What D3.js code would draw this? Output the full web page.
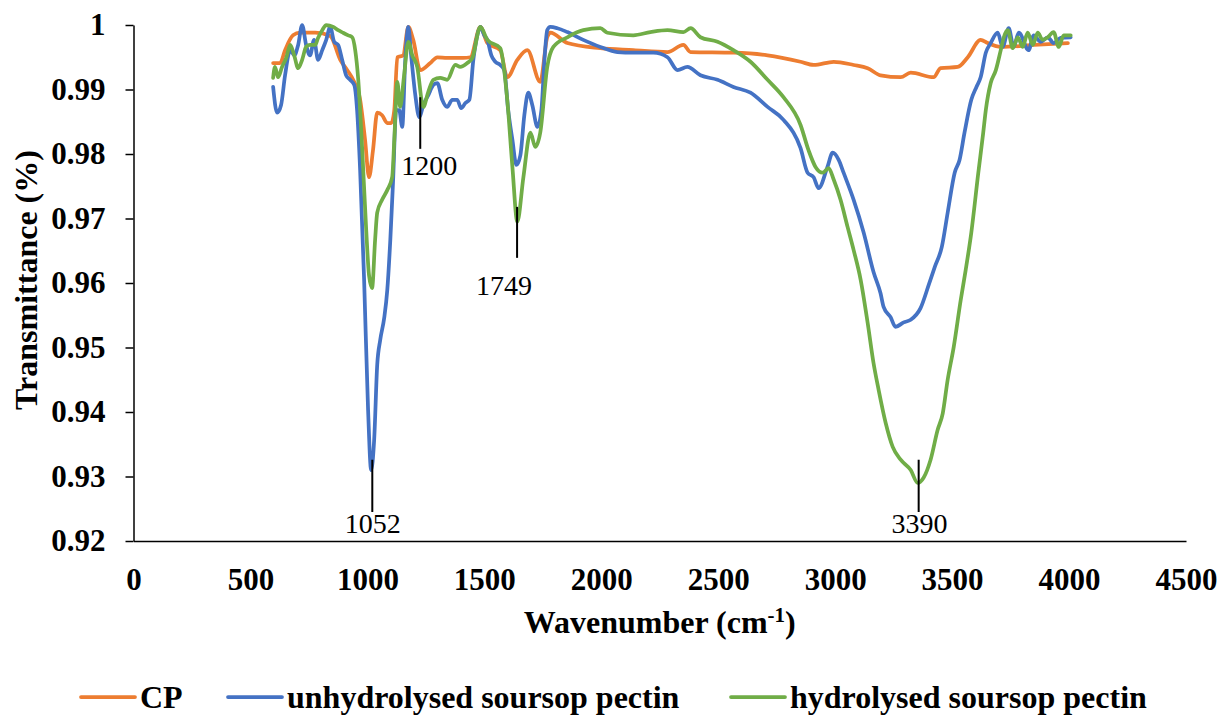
<!DOCTYPE html>
<html>
<head>
<meta charset="utf-8">
<script src="https://cdn.jsdelivr.net/npm/d3@7"></script>
<style>
  body { margin: 0; background: #fff; }
  svg { display: block; }
  svg text { font-family: "Liberation Serif", "Times New Roman", serif; fill: #000; }
</style>
</head>
<body>
<svg id="chart" width="1223" height="717"></svg>
<script>
// FTIR spectra: [wavenumber, transmittance]
const cpData = [
  [597,0.9941],[627,0.9941],[648,0.9961],[682,0.9984],[712,0.9988],[777,0.9988],[841,0.9983],
  [884,0.9946],[914,0.9930],[939,0.9915],[969,0.9884],[990,0.9822],[1007,0.9764],[1024,0.9806],
  [1042,0.9864],[1063,0.9860],[1085,0.9848],[1102,0.9848],[1115,0.9868],[1128,0.9950],[1153,0.9953],
  [1175,0.9997],[1196,0.9977],[1226,0.9930],[1269,0.9941],[1299,0.9950],[1341,0.9949],[1410,0.9949],
  [1440,0.9950],[1483,0.9997],[1513,0.9972],[1568,0.9961],[1598,0.9919],[1641,0.9946],[1684,0.9961],
  [1739,0.9912],[1769,0.9981],[1782,0.9988],[1855,0.9972],[1996,0.9964],[2137,0.9961],[2283,0.9958],
  [2351,0.9969],[2382,0.9958],[2566,0.9957],[2711,0.9953],[2852,0.9943],[2908,0.9938],[2994,0.9943],
  [3079,0.9938],[3139,0.9933],[3194,0.9922],[3280,0.9919],[3323,0.9926],[3421,0.9919],[3451,0.9933],
  [3524,0.9935],[3567,0.9950],[3622,0.9977],[3652,0.9972],[3708,0.9966],[3849,0.9969],[3995,0.9972]
]

const unhydData = [
  [597,0.9904],[614,0.9864],[631,0.9876],[648,0.9922],[670,0.9961],[687,0.9953],[704,0.9969],
  [721,1.0],[738,0.9969],[755,0.9953],[772,0.9977],[789,0.9946],[807,0.9961],[824,0.9977],
  [841,0.9997],[858,0.9974],[875,0.9969],[892,0.9946],[909,0.9922],[926,0.9915],[944,0.9907],
  [956,0.9868],[969,0.9775],[986,0.9605],[1003,0.9403],[1016,0.9310],[1029,0.9357],[1042,0.9473],
  [1055,0.9512],[1072,0.9546],[1085,0.9589],[1098,0.9667],[1110,0.9760],[1123,0.9868],[1136,0.9868],
  [1149,0.9842],[1162,0.9946],[1175,0.9997],[1187,0.9953],[1205,0.9891],[1222,0.9857],[1239,0.9876],
  [1260,0.9891],[1282,0.9907],[1299,0.9910],[1320,0.9884],[1341,0.9873],[1363,0.9884],[1384,0.9884],
  [1401,0.9871],[1419,0.9879],[1436,0.9884],[1453,0.9946],[1470,0.9984],[1483,0.9997],[1500,0.9984],
  [1513,0.9977],[1530,0.9953],[1547,0.9943],[1568,0.9938],[1585,0.9930],[1602,0.9868],[1620,0.9822],
  [1637,0.9783],[1654,0.9798],[1671,0.9860],[1688,0.9895],[1705,0.9876],[1727,0.9842],[1744,0.9868],
  [1757,0.9946],[1769,0.9992],[1782,0.9997],[1812,0.9995],[1855,0.9989],[1923,0.9977],[1996,0.9966],
  [2069,0.9958],[2137,0.9957],[2223,0.9957],[2283,0.9950],[2326,0.9930],[2368,0.9935],[2424,0.9922],
  [2497,0.9915],[2565,0.9904],[2638,0.9895],[2711,0.9873],[2779,0.9853],[2852,0.9809],[2882,0.9771],
  [2908,0.9764],[2929,0.9747],[2967,0.9780],[2989,0.9802],[3015,0.9791],[3036,0.9771],[3079,0.9729],
  [3122,0.9678],[3164,0.9617],[3194,0.9584],[3207,0.9563],[3237,0.9547],[3258,0.9532],[3293,0.9539],
  [3323,0.9543],[3365,0.9561],[3400,0.9597],[3426,0.9625],[3456,0.9656],[3481,0.9709],[3511,0.9771],
  [3532,0.9791],[3553,0.9833],[3582,0.9884],[3604,0.9904],[3622,0.9919],[3644,0.9957],[3665,0.9972],
  [3695,0.9988],[3716,0.9966],[3742,0.9995],[3763,0.9966],[3785,0.9988],[3827,0.9961],[3849,0.9984],
  [3878,0.9974],[3909,0.9981],[3934,0.9972],[3964,0.9980],[4007,0.9981]
]

const hydData = [
  [597,0.9918],[605,0.9935],[618,0.9919],[635,0.9935],[653,0.9949],[670,0.9969],[687,0.9953],
  [704,0.9933],[721,0.9946],[738,0.9966],[755,0.9969],[777,0.9969],[789,0.9980],[807,0.9992],
  [824,1.0],[854,0.9997],[875,0.9992],[896,0.9988],[918,0.9984],[935,0.9981],[948,0.9961],
  [961,0.9915],[978,0.9806],[995,0.9682],[1007,0.9612],[1020,0.9592],[1033,0.9667],[1042,0.9709],
  [1063,0.9729],[1085,0.9744],[1106,0.9764],[1115,0.9822],[1128,0.9912],[1140,0.9873],[1157,0.9922],
  [1175,0.9974],[1192,0.9953],[1213,0.9935],[1239,0.9873],[1260,0.9896],[1282,0.9915],[1311,0.9918],
  [1341,0.9915],[1376,0.9938],[1397,0.9935],[1427,0.9941],[1449,0.9949],[1483,0.9997],[1513,0.9977],
  [1568,0.9964],[1598,0.9884],[1620,0.9780],[1641,0.9695],[1667,0.9764],[1697,0.9833],[1718,0.9811],
  [1739,0.9833],[1769,0.9935],[1795,0.9966],[1855,0.9981],[1923,0.9992],[1996,0.9995],[2026,0.9988],
  [2137,0.9984],[2210,0.9989],[2283,0.9992],[2351,0.9989],[2382,0.9995],[2424,0.9981],[2497,0.9974],
  [2565,0.9961],[2638,0.9943],[2711,0.9915],[2779,0.9888],[2852,0.9845],[2886,0.9806],[2916,0.9780],
  [2946,0.9771],[2972,0.9778],[2994,0.9760],[3023,0.9729],[3053,0.9687],[3079,0.9651],[3109,0.9605],
  [3139,0.9538],[3164,0.9476],[3186,0.9434],[3216,0.9383],[3246,0.9346],[3280,0.9326],[3323,0.9310],
  [3353,0.9290],[3378,0.9298],[3408,0.9326],[3438,0.9372],[3460,0.9398],[3481,0.9450],[3507,0.9501],
  [3537,0.9574],[3558,0.9620],[3582,0.9678],[3612,0.9771],[3633,0.9833],[3644,0.9868],[3665,0.9910],
  [3687,0.9930],[3708,0.9961],[3721,0.9981],[3738,0.9992],[3759,0.9964],[3781,0.9981],[3802,0.9966],
  [3823,0.9988],[3845,0.9969],[3866,0.9988],[3887,0.9977],[3909,0.9981],[3934,0.9989],[3956,0.9966],
  [3977,0.9984],[4007,0.9984]
]

const seriesNames = ['CP', 'unhydrolysed soursop pectin', 'hydrolysed soursop pectin']
const seriesColors = ['#ED7D31', '#4472C4', '#70AD47']

const xTicks = [0, 500, 1000, 1500, 2000, 2500, 3000, 3500, 4000, 4500]
const yTicks = [0.92, 0.93, 0.94, 0.95, 0.96, 0.97, 0.98, 0.99, 1]

// peak labels: [text, line wavenumber, line top, line bottom, text wavenumber, text baseline]
const peakLabels = [
  ['1052', 1021, 0.9326, 0.9245, 1023, 0.9212],
  ['1200', 1226, 0.9888, 0.9808, 1264, 0.9767],
  ['1749', 1640, 0.9718, 0.9639, 1584, 0.9581],
  ['3390', 3357, 0.9326, 0.9245, 3361, 0.9212]
]

const svg = d3.select('#chart')
const margin = { left: 133.5, top: 25, right: 37, bottom: 176 }
const width = 1223 - margin.left - margin.right
const height = 717 - margin.top - margin.bottom

const x = d3.scaleLinear().domain([0, 4500]).range([margin.left, margin.left + width])
const y = d3.scaleLinear().domain([0.92, 1]).range([margin.top + height, margin.top])

// axes
const yAxis = svg.append('g')
    .attr('transform', `translate(${margin.left},0)`)
    .call(d3.axisLeft(y).tickValues(yTicks).tickSize(8).tickSizeOuter(0).tickPadding(20)
        .tickFormat(d => d === 1 ? '1' : d3.format('.2f')(d)))
yAxis.select('.domain').attr('stroke', '#000').attr('stroke-width', 1.5)
yAxis.selectAll('.tick line').attr('stroke', '#000').attr('stroke-width', 1.5)
yAxis.selectAll('text')
    .attr('font-size', 31).attr('font-weight', 'bold')

const xAxis = svg.append('g')
    .attr('transform', `translate(0,${margin.top + height})`)
    .call(d3.axisBottom(x).tickValues(xTicks).tickSize(0).tickSizeOuter(0).tickFormat(d3.format('d')))
xAxis.select('.domain').attr('stroke', '#000').attr('stroke-width', 1.5)
xAxis.selectAll('text')
    .attr('y', 49).attr('dy', null)
    .attr('font-size', 31).attr('font-weight', 'bold')

// spectra
const line = d3.line()
    .x(d => x(d[0]))
    .y(d => y(Math.min(d[1], 1)))
    .curve(d3.curveMonotoneX)

const allSeries = [cpData, unhydData, hydData]
svg.append('g')
    .selectAll('path')
    .data(allSeries)
    .join('path')
    .attr('d', line)
    .attr('fill', 'none')
    .attr('stroke', (d, i) => seriesColors[i])
    .attr('stroke-width', 3.75)
    .attr('stroke-linejoin', 'round')
    .attr('stroke-linecap', 'round')

// peak annotations
const peaks = svg.append('g')
peaks.selectAll('line')
    .data(peakLabels)
    .join('line')
    .attr('x1', d => x(d[1])).attr('x2', d => x(d[1]))
    .attr('y1', d => y(d[2])).attr('y2', d => y(d[3]))
    .attr('stroke', '#000').attr('stroke-width', 2)
peaks.selectAll('text')
    .data(peakLabels)
    .join('text')
    .attr('x', d => x(d[4]))
    .attr('y', d => y(d[5]))
    .attr('text-anchor', 'middle')
    .attr('font-size', 28)
    .text(d => d[0])

// axis titles
svg.append('text')
    .attr('transform', `translate(37,${margin.top + height / 2 - 3}) rotate(-90)`)
    .attr('text-anchor', 'middle')
    .attr('font-size', 32).attr('font-weight', 'bold')
    .text('Transmittance (%)')

const xTitle = svg.append('text')
    .attr('x', margin.left + width / 2)
    .attr('y', 633)
    .attr('text-anchor', 'middle')
    .attr('font-size', 32).attr('font-weight', 'bold')
xTitle.append('tspan').text('Wavenumber (cm')
xTitle.append('tspan').attr('font-size', 21).attr('dy', -11).text('-1')
xTitle.append('tspan').attr('dy', 11).text(')')

// legend
const legendX = [81, 228, 731]
const legend = svg.append('g')
    .selectAll('g')
    .data(seriesNames)
    .join('g')
    .attr('transform', (d, i) => `translate(${legendX[i]},697)`)
legend.append('line')
    .attr('x1', 0).attr('x2', 54)
    .attr('stroke', (d, i) => seriesColors[i])
    .attr('stroke-width', 3.75)
    .attr('stroke-linecap', 'round')
legend.append('text')
    .attr('x', 59).attr('y', 11)
    .attr('font-size', 32).attr('font-weight', 'bold')
    .text(d => d)
</script>
</body>
</html>
